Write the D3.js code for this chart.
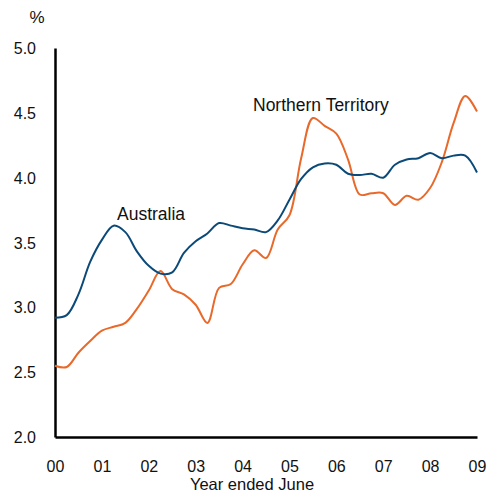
<!DOCTYPE html>
<html>
<head>
<meta charset="utf-8">
<script src="https://cdn.jsdelivr.net/npm/d3@7"></script>
<style>
  body { margin: 0; background: #fff; }
  text { font-family: "Liberation Sans", Arial, sans-serif; fill: #111; }
</style>
</head>
<body>
<script>
// quarterly, in years since June 2000
var quarters = d3.range(0, 37).map(i => i / 4);
var australia = [2.92, 2.94, 3.10, 3.35, 3.52, 3.63, 3.58, 3.43, 3.32, 3.26,
  3.27, 3.42, 3.51, 3.57, 3.65, 3.63, 3.61, 3.60, 3.58, 3.67,
  3.83, 3.99, 4.08, 4.11, 4.10, 4.03, 4.02, 4.03, 4.00, 4.10,
  4.14, 4.15, 4.19, 4.15, 4.17, 4.17, 4.04];
var northernTerritory = [2.55, 2.54, 2.65, 2.74, 2.82, 2.85, 2.88, 2.99, 3.13, 3.28,
  3.14, 3.10, 3.02, 2.88, 3.15, 3.18, 3.33, 3.44, 3.38, 3.60,
  3.71, 4.15, 4.46, 4.40, 4.34, 4.14, 3.87, 3.88, 3.88, 3.79,
  3.86, 3.83, 3.92, 4.12, 4.42, 4.63, 4.51];
var xTickLabels = ["00", "01", "02", "03", "04", "05", "06", "07", "08", "09"];
var yTicks = [2.0, 2.5, 3.0, 3.5, 4.0, 4.5, 5.0];

var w = 499, h = 494;
var plotLeft = 55, plotRight = 477, plotTop = 48, plotBottom = 437;

var x = d3.scaleLinear().domain([0, 9]).range([plotLeft, plotRight]);
var y = d3.scaleLinear().domain([2, 5]).range([plotBottom, plotTop]);

var svg = d3.select("body").append("svg")
  .attr("width", w)
  .attr("height", h);

// axes
var yAxis = svg.append("g")
  .attr("transform", `translate(${plotLeft},0)`)
  .call(d3.axisLeft(y).tickValues(yTicks).tickSize(0).tickPadding(19).tickFormat(d3.format(".1f")));
var xAxis = svg.append("g")
  .attr("transform", `translate(0,${plotBottom})`)
  .call(d3.axisBottom(x).tickValues(d3.range(0, 10)).tickSize(0).tickPadding(24)
    .tickFormat(i => xTickLabels[i]));

[yAxis, xAxis].forEach(a => {
  a.select(".domain").attr("stroke", "#000").attr("stroke-width", 2.5);
  a.selectAll("text").attr("font-size", 16).attr("font-family", "Liberation Sans, Arial, sans-serif").attr("fill", "#111");
});
yAxis.selectAll("text").attr("dy", "0.35em");

svg.append("text")
  .attr("x", 37).attr("y", 23)
  .attr("text-anchor", "middle")
  .attr("font-size", 17)
  .text("%");

svg.append("text")
  .attr("x", 252).attr("y", 490)
  .attr("text-anchor", "middle")
  .attr("font-size", 16.5)
  .text("Year ended June");

// lines
var line = data => d3.line()
  .x((d, i) => x(quarters[i]))
  .y(d => y(d))
  .curve(d3.curveCatmullRom.alpha(0.5))(data);

svg.append("path")
  .attr("d", line(northernTerritory))
  .attr("fill", "none")
  .attr("stroke", "#e8692a")
  .attr("stroke-width", 2);

svg.append("path")
  .attr("d", line(australia))
  .attr("fill", "none")
  .attr("stroke", "#0b4a78")
  .attr("stroke-width", 2);

// series labels
svg.append("text")
  .attr("x", 117).attr("y", 220)
  .attr("font-size", 17.5)
  .text("Australia");

svg.append("text")
  .attr("x", 253).attr("y", 111)
  .attr("font-size", 17.5)
  .text("Northern Territory");
</script>
</body>
</html>
